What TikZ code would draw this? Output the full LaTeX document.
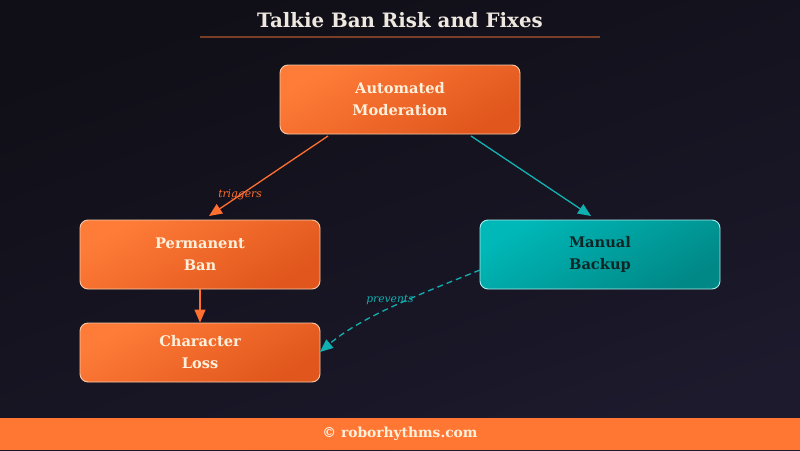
\documentclass[tikz,border=0pt]{standalone}
\usepackage{fontspec}
\setmainfont{DejaVu Serif}
\usetikzlibrary{arrows.meta}
\definecolor{bgtop}{HTML}{100E16}
\definecolor{bgbot}{HTML}{1C1A2C}
\definecolor{orA}{HTML}{FF7C38}
\definecolor{orB}{HTML}{E0561C}
\definecolor{orline}{HTML}{FF7030}
\definecolor{tlA}{HTML}{00B8B8}
\definecolor{tlB}{HTML}{008886}
\definecolor{tlline}{HTML}{10B0B0}
\definecolor{cream}{HTML}{FFF0DC}
\definecolor{titlec}{HTML}{EEE8E0}
\definecolor{footc}{HTML}{FF7733}
\definecolor{uline}{HTML}{7A3E28}
\definecolor{darktxt}{HTML}{0E2626}
\definecolor{orborder}{HTML}{F8C8A8}
\definecolor{tlborder}{HTML}{A8EEEE}
\tikzset{
  x=1pt,y=-1pt,
  box/.style={rounded corners=8pt, minimum width=240pt, align=center, font=\bfseries\fontsize{14.6}{22}\selectfont, line width=0.9pt},
  orbox/.style={box, draw=orborder, top color=orA, bottom color=orB, shading angle=30, text=cream},
  tlbox/.style={box, draw=tlborder, top color=tlA, bottom color=tlB, shading angle=30, text=darktxt},
  orarrow/.style={draw=orline, line width=1.3pt, -{Triangle[length=13pt,width=11pt]}},
  tlarrow/.style={draw=tlline, line width=1.3pt, -{Triangle[length=13pt,width=11pt]}},
  elabel/.style={font=\itshape\fontsize{10.7}{12}\selectfont}
}
\begin{document}
\begin{tikzpicture}
\shade[top color=bgtop, bottom color=bgbot, shading angle=20] (0,0) rectangle (800,450);
\useasboundingbox (0,0) rectangle (800,450);
\fill[footc] (0,418) rectangle (800,450);
\node[text=cream, font=\bfseries\fontsize{13.8}{15}\selectfont] (foot) at (400,434) {© roborhythms.com};
\node[text=titlec, font=\bfseries\fontsize{19.8}{22}\selectfont] (title) at (400,20) {Talkie Ban Risk and Fixes};
\draw[uline, line width=1.2pt] (200,37) -- (600,37);

\node[orbox, minimum height=69pt] (am) at (400,99.5) {Automated\\Moderation};
\node[orbox, minimum height=69pt] (pb) at (200,254.5) {Permanent\\Ban};
\node[tlbox, minimum height=69pt] (mb) at (600,254.5) {Manual\\Backup};
\node[orbox, minimum height=59pt] (cl) at (200,352.5) {Character\\Loss};

\coordinate (amL) at (328,136);
\coordinate (pbT) at (209,216);
\coordinate (amR) at (471,136);
\coordinate (mbT) at (591,216);
\draw[orarrow] (amL) -- (pbT);
\node[elabel, text=orline] (trig) at (240,195) {triggers};
\draw[tlarrow] (amR) -- (mbT);
\draw[orarrow] (pb.south) -- (cl.north);
\coordinate (mbL) at (480,270);
\coordinate (clR) at (320,352);
\draw[tlarrow, dashed, dash pattern=on 6pt off 4pt] (mbL) .. controls (410,298) and (360,318) .. (clR);
\node[elabel, text=tlline] (prev) at (390,300) {prevents};
\end{tikzpicture}
\end{document}
